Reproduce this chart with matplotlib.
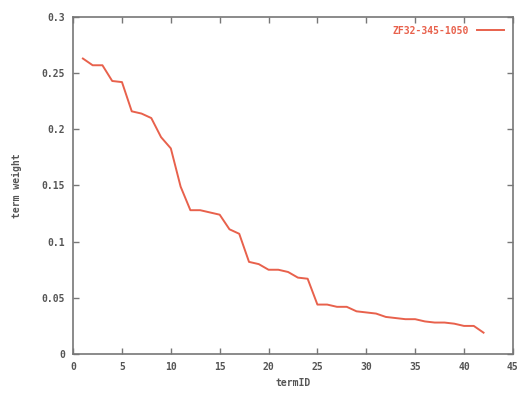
import matplotlib
matplotlib.use("Agg")
import matplotlib.pyplot as plt

term_id = list(range(1, 43))
term_weight = [0.263, 0.257, 0.257, 0.243, 0.242, 0.216, 0.214, 0.210, 0.193, 0.183,
               0.149, 0.128, 0.128, 0.126, 0.124, 0.111, 0.107, 0.082, 0.080, 0.075,
               0.075, 0.073, 0.068, 0.067, 0.044, 0.044, 0.042, 0.042, 0.038, 0.037,
               0.036, 0.033, 0.032, 0.031, 0.031, 0.029, 0.028, 0.028, 0.027, 0.025,
               0.025, 0.019]
series_label = "ZF32-345-1050"
x_ticks = [0, 5, 10, 15, 20, 25, 30, 35, 40, 45]
y_ticks = [0, 0.05, 0.1, 0.15, 0.2, 0.25, 0.3]
y_tick_labels = ["0", "0.05", "0.1", "0.15", "0.2", "0.25", "0.3"]

red = "#e8614c"
gray = "#555555"
font = dict(family="DejaVu Sans Mono", size=7, weight="bold", color=gray)

fig = plt.figure(figsize=(5.26, 3.94), dpi=100)
ax = fig.add_axes([0.139, 0.1015, 0.836, 0.8555])
ax.plot(term_id, term_weight, color=red, lw=1.4, label=series_label)
ax.set_xlim(0, 45)
ax.set_ylim(0, 0.3)
ax.set_xticks(x_ticks)
ax.set_xticklabels([str(t) for t in x_ticks], **font)
ax.set_yticks(y_ticks)
ax.set_yticklabels(y_tick_labels, **font)
ax.tick_params(direction="in", top=True, right=True, length=4, width=1, color="#777777", pad=6)
for s in ax.spines.values():
    s.set_color("#777777")
    s.set_linewidth(1.2)
ax.set_xlabel("termID", labelpad=4, **font)
ax.set_ylabel("term weight", labelpad=14, **font)
leg = ax.legend(loc="upper right", frameon=False, markerfirst=False, handlelength=2.8,
                prop=dict(family="DejaVu Sans Mono", size=7, weight="bold"),
                borderaxespad=0.5)
for t in leg.get_texts():
    t.set_color(red)
fig.savefig("out.png", dpi=100)
